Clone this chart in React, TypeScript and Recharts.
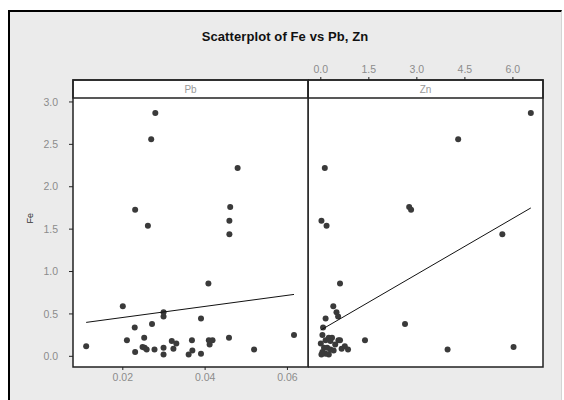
import React from 'react';
import { ScatterChart, Scatter, XAxis, YAxis, ReferenceArea } from 'recharts';

// one entry per sample: Fe (response), Pb and Zn (predictors)
const fe = [2.87, 2.56, 2.22, 1.73, 1.76, 1.6, 1.54, 1.44, 0.86, 0.59, 0.52, 0.47, 0.445, 0.38, 0.34, 0.25, 0.22, 0.22, 0.19, 0.19, 0.19, 0.19, 0.18, 0.15, 0.14, 0.12, 0.11, 0.1, 0.1, 0.09, 0.08, 0.08, 0.08, 0.07, 0.05, 0.03, 0.02, 0.02];
const pb = [0.0279, 0.0269, 0.0479, 0.023, 0.0461, 0.0459, 0.0261, 0.0459, 0.0408, 0.02, 0.0299, 0.0299, 0.039, 0.0271, 0.0229, 0.0616, 0.0252, 0.0458, 0.021, 0.0368, 0.0409, 0.0418, 0.0319, 0.033, 0.0411, 0.0111, 0.0248, 0.0253, 0.0299, 0.0323, 0.0258, 0.0277, 0.0519, 0.0369, 0.023, 0.039, 0.0299, 0.036];
const zn = [6.56, 4.29, 0.125, 2.82, 2.76, 0.02, 0.18, 5.67, 0.6, 0.39, 0.49, 0.54, 0.15, 2.63, 0.07, 0.05, 0.25, 0.35, 0.55, 1.38, 0.15, 0.6, 0.3, 0.0, 0.45, 0.75, 6.02, 0.1, 0.2, 0.65, 0.3, 3.96, 0.85, 0.4, 0.05, 0.15, 0.25, 0.02];

// fitted regression lines, endpoints at min/max of x
const pbFit = [{ x: 0.0111, y: 0.4 }, { x: 0.0616, y: 0.73 }];
const znFit = [{ x: 0.0, y: 0.31 }, { x: 6.56, y: 1.75 }];

const feTicks = [0, 0.5, 1, 1.5, 2, 2.5, 3];
const pbTicks = [0.02, 0.04, 0.06];
const znTicks = [0, 1.5, 3, 4.5, 6];

const FE_MIN = -0.126;
const FE_MAX = 3.259;
const STRIP_Y = 3.046; // strip header sits above this
const PB_DOMAIN: [number, number] = [0.0079, 0.065];
const ZN_DOMAIN: [number, number] = [-0.4, 6.94];

const pbData = fe.map((y, i) => ({ x: pb[i], y }));
const znData = fe.map((y, i) => ({ x: zn[i], y }));

const tickStyle = { fill: '#8c8c8c', fontSize: 10.5 };

const Dot = (props: any) => <circle cx={props.cx} cy={props.cy} r={3} fill="#3a3a3a" />;
const NoDot = () => <g />;

// strip header text, centred in the reference area box
const stripLabel = (text: string) => (props: any) => {
  const { x, y, width, height } = props.viewBox;
  return (
    <text x={x + width / 2} y={y + height / 2} dy="0.35em" textAnchor="middle" style={{ fill: '#999999', stroke: 'none' }} fontSize={10}>
      {text}
    </text>
  );
};

export default function App() {
  return (
    <div style={{ position: 'absolute', left: 0, top: 0, width: 564, height: 400, overflow: 'hidden', background: '#fff', fontFamily: '"Liberation Sans", Arial, sans-serif' }}>
      <div style={{ position: 'absolute', left: 8, top: 10, width: 551, height: 400, background: '#ebebeb', borderLeft: '2px solid #000', borderTop: '2px solid #000', borderRight: '1px solid #d4d4d4' }} />
      <div style={{ position: 'absolute', left: 8, width: 554, top: 29, textAlign: 'center', fontSize: 13, fontWeight: 'bold', letterSpacing: 0.1, color: '#111' }}>
        Scatterplot of Fe vs Pb, Zn
      </div>
      {/* white plot background */}
      <div style={{ position: 'absolute', left: 73, top: 80, width: 470, height: 287, background: '#fff' }} />

      <div style={{ position: 'absolute', left: 0, top: 0 }}>
        <ScatterChart width={320} height={400} margin={{ top: 80, right: 12, bottom: 3, left: 20 }}>
          <XAxis
            type="number"
            dataKey="x"
            domain={PB_DOMAIN}
            allowDataOverflow
            ticks={pbTicks}
            tickFormatter={(v: number) => v.toFixed(2)}
            tick={tickStyle}
            tickSize={3}
            tickMargin={4}
            height={30}
            axisLine={false}
            tickLine={{ stroke: '#222' }}
          />
          <YAxis
            type="number"
            dataKey="y"
            domain={[FE_MIN, FE_MAX]}
            allowDataOverflow
            ticks={feTicks}
            tickFormatter={(v: number) => v.toFixed(1)}
            tick={tickStyle}
            tickSize={4}
            tickMargin={11}
            width={53}
            axisLine={false}
            tickLine={{ stroke: '#222' }}
            label={{ value: 'Fe', angle: -90, position: 'insideLeft', offset: 10, fill: '#333', fontSize: 9 }}
          />
          <ReferenceArea x1={PB_DOMAIN[0]} x2={PB_DOMAIN[1]} y1={FE_MIN} y2={FE_MAX} fill="none" stroke="#222" strokeWidth={1.5} ifOverflow="visible" />
          <ReferenceArea
            x1={PB_DOMAIN[0]}
            x2={PB_DOMAIN[1]}
            y1={STRIP_Y}
            y2={FE_MAX}
            fill="none"
            stroke="#222"
            strokeWidth={1.5}
            ifOverflow="visible"
            label={stripLabel('Pb')}
          />
          <Scatter data={pbData} shape={Dot} isAnimationActive={false} />
          <Scatter data={pbFit} shape={NoDot} line={{ stroke: '#111', strokeWidth: 1 }} isAnimationActive={false} />
        </ScatterChart>
      </div>

      <div style={{ position: 'absolute', left: 308, top: 0 }}>
        <ScatterChart width={256} height={400} margin={{ top: 50, right: 21, bottom: 33, left: 0 }}>
          <XAxis
            type="number"
            dataKey="x"
            orientation="top"
            domain={ZN_DOMAIN}
            allowDataOverflow
            ticks={znTicks}
            tickFormatter={(v: number) => v.toFixed(1)}
            tick={tickStyle}
            tickSize={3}
            tickMargin={4}
            height={30}
            axisLine={false}
            tickLine={{ stroke: '#222' }}
          />
          <YAxis type="number" dataKey="y" domain={[FE_MIN, FE_MAX]} allowDataOverflow hide />
          <ReferenceArea x1={ZN_DOMAIN[0]} x2={ZN_DOMAIN[1]} y1={FE_MIN} y2={FE_MAX} fill="none" stroke="#222" strokeWidth={1.5} ifOverflow="visible" />
          <ReferenceArea
            x1={ZN_DOMAIN[0]}
            x2={ZN_DOMAIN[1]}
            y1={STRIP_Y}
            y2={FE_MAX}
            fill="none"
            stroke="#222"
            strokeWidth={1.5}
            ifOverflow="visible"
            label={stripLabel('Zn')}
          />
          <Scatter data={znData} shape={Dot} isAnimationActive={false} />
          <Scatter data={znFit} shape={NoDot} line={{ stroke: '#111', strokeWidth: 1 }} isAnimationActive={false} />
        </ScatterChart>
      </div>
    </div>
  );
}
